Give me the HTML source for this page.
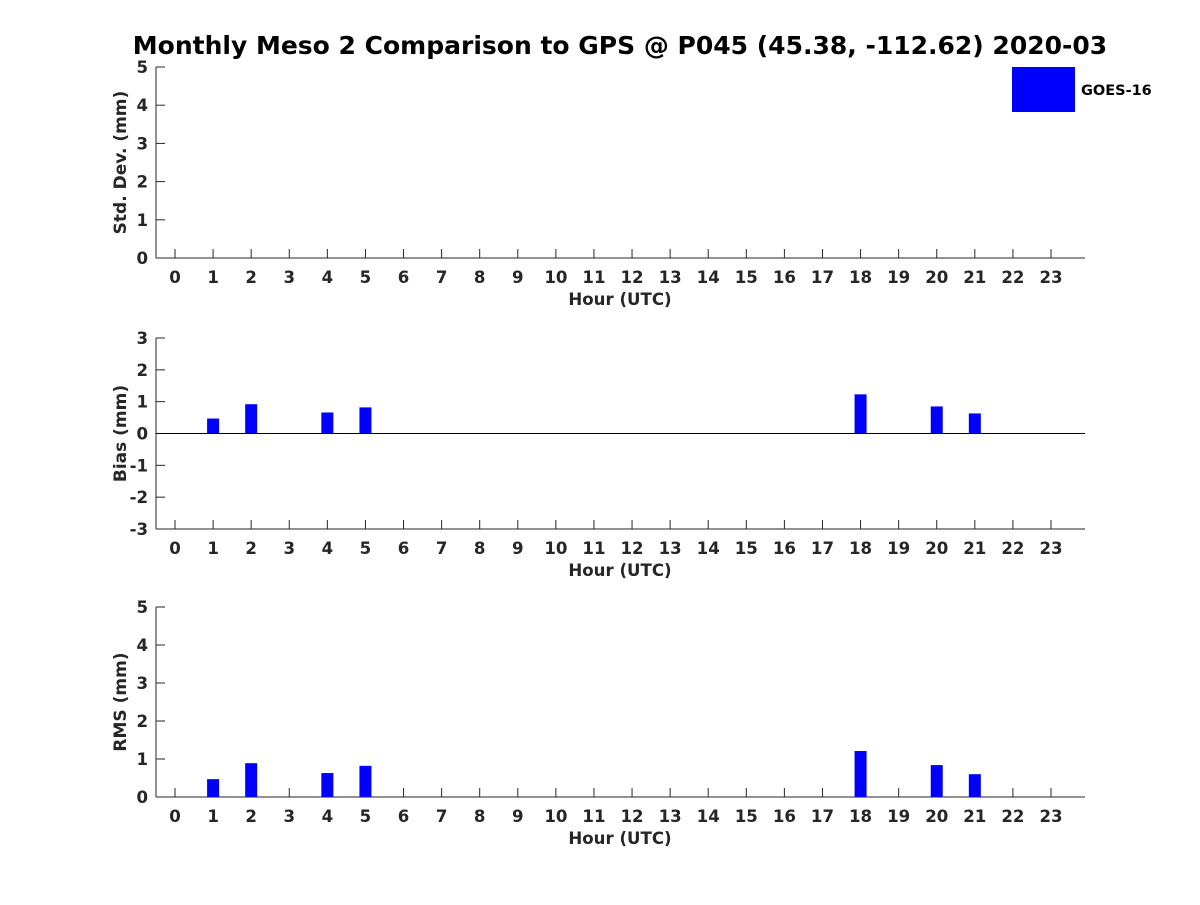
<!DOCTYPE html>
<html><head><meta charset="utf-8"><style>
body{margin:0;background:#fff}
svg text{font-family:"DejaVu Sans","Liberation Sans",sans-serif;font-weight:bold;fill:#262626}
</style></head><body>
<svg id="c" width="1200" height="900" xmlns="http://www.w3.org/2000/svg">
<text x="620" y="54" text-anchor="middle" font-size="25" style="fill:#000">Monthly Meso 2 Comparison to GPS @ P045 (45.38, -112.62) 2020-03</text>
<rect x="1012" y="67" width="63" height="45" fill="#0000ff"/>
<text x="1081" y="95" font-size="14.5" style="fill:#000">GOES-16</text>
</svg>
<script>
const hours = [0,1,2,3,4,5,6,7,8,9,10,11,12,13,14,15,16,17,18,19,20,21,22,23];
const barHours = [1,2,4,5,18,20,21];
const stdValues = [0,0,0,0,0,0,0];
const biasValues = [0.47,0.92,0.66,0.82,1.23,0.85,0.63];
const rmsValues = [0.47,0.89,0.63,0.82,1.21,0.84,0.60];
const stdTicks = [0,1,2,3,4,5];
const biasTicks = [-3,-2,-1,0,1,2,3];
const rmsTicks = [0,1,2,3,4,5];
const svg = document.getElementById('c');
const NS = 'http://www.w3.org/2000/svg';
function mk(tag, attrs){const e=document.createElementNS(NS,tag);for(const k in attrs)e.setAttribute(k,attrs[k]);svg.appendChild(e);return e;}
const xS = h => 175 + h*(1051-175)/23;
function panel(id, top, bottom, ymin, ymax, ticks, vals, ylabel){
  const yS = v => bottom - (v-ymin)/(ymax-ymin)*(bottom-top);
  const g=mk('line',{x1:156,y1:top,x2:156,y2:bottom,stroke:'#262626','stroke-width':1});
  
  
  const b=mk('line',{x1:156,y1:bottom,x2:1085,y2:bottom,stroke:'#262626','stroke-width':1});
  
  
  ticks.forEach(t=>{
    const y=yS(t);
    const l=mk('line',{x1:156,y1:y,x2:165,y2:y,stroke:'#262626'});
    
    
    const tx=mk('text',{x:148,y:y+6,'text-anchor':'end','font-size':16.6});
    tx.textContent=t;
    
    
  });
  hours.forEach(h=>{
    const x=xS(h);
    const l=mk('line',{x1:x,y1:bottom,x2:x,y2:bottom-9,stroke:'#262626'});
    
    
    const tx=mk('text',{x:x,y:bottom+25,'text-anchor':'middle','font-size':16.6});
    tx.textContent=h;
    
    
  });
  const xl=mk('text',{x:620,y:bottom+47,'text-anchor':'middle','font-size':16.6});
  xl.textContent='Hour (UTC)';
  
  
  const cy=(top+bottom)/2;
  const yl=mk('text',{x:126,y:cy,'text-anchor':'middle','font-size':17,transform:'rotate(-90 126 '+cy+')'});
  yl.textContent=ylabel;
  
  
  const z=yS(Math.max(ymin,0));
  vals.forEach((v,i)=>{
    if(v===0) return;
    const y=yS(v);
    const r=mk('rect',{x:xS(barHours[i])-6,y:Math.min(y,z),width:12,height:Math.abs(z-y),fill:'#0000ff'});
    
    
  });
  if(ymin<0){
    const zl=mk('line',{x1:156,y1:z,x2:1085,y2:z,stroke:'#000'});
    
    
  }
}
panel('std',67,258,0,5,stdTicks,stdValues,'Std. Dev. (mm)');
panel('bias',338,529,-3,3,biasTicks,biasValues,'Bias (mm)');
panel('rms',607,797,0,5,rmsTicks,rmsValues,'RMS (mm)');
</script>
</body></html>
